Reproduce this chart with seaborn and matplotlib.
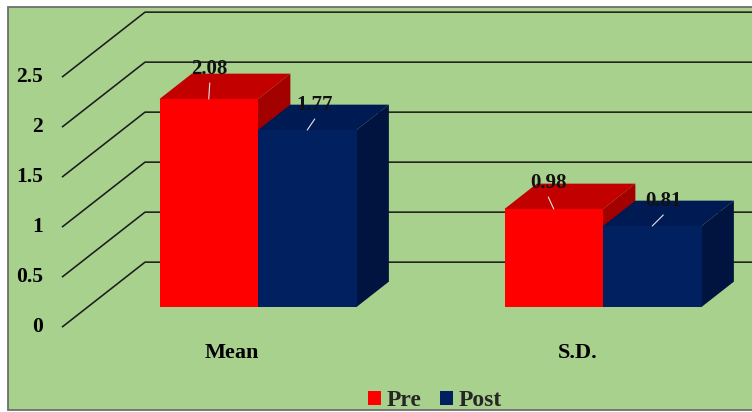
import matplotlib
matplotlib.use("Agg")
import matplotlib.pyplot as plt
from matplotlib.patches import Polygon, Rectangle
from matplotlib.colors import to_hex
from matplotlib.transforms import offset_copy
import pandas as pd
import seaborn as sns

# ---- data -------------------------------------------------------------
categories = ["Mean", "S.D."]
groups = ["Pre", "Post"]
pre_values = [2.08, 0.98]
post_values = [1.77, 0.81]
y_ticks = [0, 0.5, 1, 1.5, 2, 2.5]
y_tick_labels = ["0", "0.5", "1", "1.5", "2", "2.5"]

# ---- style ------------------------------------------------------------
BG = "#A9D18E"
FRONT = {"Pre": "#FF0000", "Post": "#002060"}
TOP = {"Pre": "#C20000", "Post": "#001B54"}
SIDE = {"Pre": "#A30000", "Post": "#00143F"}
GRID = "#1C1C1C"

df = pd.DataFrame({
    "stat": categories * 2,
    "group": [groups[0]] * len(categories) + [groups[1]] * len(categories),
    "value": pre_values + post_values,
})

sns.set_theme(style="white")
plt.rcParams["font.family"] = ["Liberation Serif", "DejaVu Serif"]
plt.rcParams["font.weight"] = "bold"

W, H = 752, 412
fig = plt.figure(figsize=(W / 100, H / 100), dpi=100)
fig.patch.set_facecolor("white")

# chart area with its frame (open to the right)
fig.add_artist(Rectangle((8 / W, 2 / H), 1.2, (410 - 7) / H,
                         transform=fig.transFigure, facecolor=BG,
                         edgecolor="#6E6E6E", lw=1.3, zorder=0))

ax = fig.add_axes([0, 0, 1, 1])
ax.patch.set_alpha(0)

# layout of the plot area in pixels
CAT_PX = 345.0          # distance between category centres
CAT0_PX = 258.0         # x of first category centre (bar front plane)
ZERO_PX = 307.0         # y (from top) of value 0 on the bar front plane
UNIT_PX = 100.0         # pixels per value unit
PAIR_PX = 197.0         # width of a pair of bars

# pseudo-3D depth: full depth of the floor, bars between T0 and T1
DX = 83.0 / CAT_PX
DY = 65.0 / UNIT_PX
T0, T1 = 0.31, 0.70
WALL_X = (62.0 + T0 * 83.0 - CAT0_PX) / CAT_PX


def proj(x, y, t):
    return x + (t - T0) * DX, y + (t - T0) * DY


sns.barplot(data=df, x="stat", y="value", hue="group", order=categories,
            hue_order=groups, palette=FRONT, saturation=1,
            width=PAIR_PX / CAT_PX, linewidth=0, edgecolor="none",
            errorbar=None, ax=ax)

x_lo = -CAT0_PX / CAT_PX
x_hi = (W - CAT0_PX) / CAT_PX
ax.set_xlim(x_lo, x_hi)
ax.set_ylim(-(H - ZERO_PX) / UNIT_PX, ZERO_PX / UNIT_PX)
ax.set_axis_off()

# gridlines: diagonal on the left wall, horizontal on the back wall
for v in y_ticks:
    p0 = proj(WALL_X, v, 0)
    p1 = proj(WALL_X, v, 1)
    ax.plot([p0[0], p1[0], x_hi + 0.1], [p0[1], p1[1], p1[1]],
            color=GRID, lw=1.15, zorder=1, solid_capstyle="butt")

tick_tr = offset_copy(ax.transData, fig=fig, x=-19, y=0, units="dots")
for v, lab in zip(y_ticks, y_tick_labels):
    px, py = proj(WALL_X, v, 0)
    ax.text(px, py, lab, transform=tick_tr, ha="right", va="center",
            fontsize=15.5, fontweight="bold", color="black", zorder=5)

cat_tr = offset_copy(ax.transData, fig=fig, x=0, y=-26, units="dots")
for i, c in enumerate(categories):
    px, py = proj(i, 0, 0)
    ax.text(px, py, c, transform=cat_tr, ha="center", va="center",
            fontsize=16, fontweight="bold", color="black", zorder=5)

# top and side faces of each bar
lookup = {to_hex(v): k for k, v in FRONT.items()}
bars = sorted([p for p in ax.patches if p.get_height() > 0],
              key=lambda p: p.get_x())
for i, p in enumerate(bars):
    g = lookup[to_hex(p.get_facecolor())]
    p.set_zorder(3)
    x0, x1 = p.get_x(), p.get_x() + p.get_width()
    h = p.get_height()
    top = [proj(x0, h, T0), proj(x0, h, T1), proj(x1, h, T1), proj(x1, h, T0)]
    side = [proj(x1, h, T0), proj(x1, h, T1), proj(x1, 0, T1), proj(x1, 0, T0)]
    ax.add_patch(Polygon(side, closed=True, facecolor=SIDE[g],
                         edgecolor="none", zorder=2 + 0.1 * i))
    ax.add_patch(Polygon(top, closed=True, facecolor=TOP[g],
                         edgecolor="none", zorder=2 + 0.1 * i + 0.05))

# value labels with short leader lines (pixel offsets from the bar top),
# in left-to-right bar order
label_offsets = [(1, 30), (7.5, 25), (-5.5, 26), (11, 25)]
for p, (ox, oy) in zip(bars, label_offsets):
    cx = p.get_x() + p.get_width() / 2
    h = p.get_height()
    lab_tr = offset_copy(ax.transData, fig=fig, x=ox, y=oy, units="dots")
    ax.text(cx, h, f"{h:.2f}", transform=lab_tr, ha="center", va="center",
            fontsize=15, fontweight="bold", color="#111111", zorder=6)
    start = ax.transData.transform((cx, h))
    end = (start[0] + ox, start[1] + oy - 14)
    inv = ax.transData.inverted()
    s, e = inv.transform(start), inv.transform(end)
    ax.plot([s[0], e[0]], [s[1], e[1]], color="#E6E6E6", lw=0.8, zorder=6)

# legend along the bottom
handles, labels = ax.get_legend_handles_labels()
ax.legend(handles, labels, loc="center", ncol=2, frameon=False,
          bbox_to_anchor=(435 / W, (H - 401) / H),
          bbox_transform=fig.transFigure,
          prop={"size": 17, "weight": "bold"},
          handlelength=0.55, handleheight=0.55, handletextpad=0.25,
          columnspacing=0.75, borderpad=0, borderaxespad=0)

fig.savefig("out.png", dpi=100, facecolor="white")
